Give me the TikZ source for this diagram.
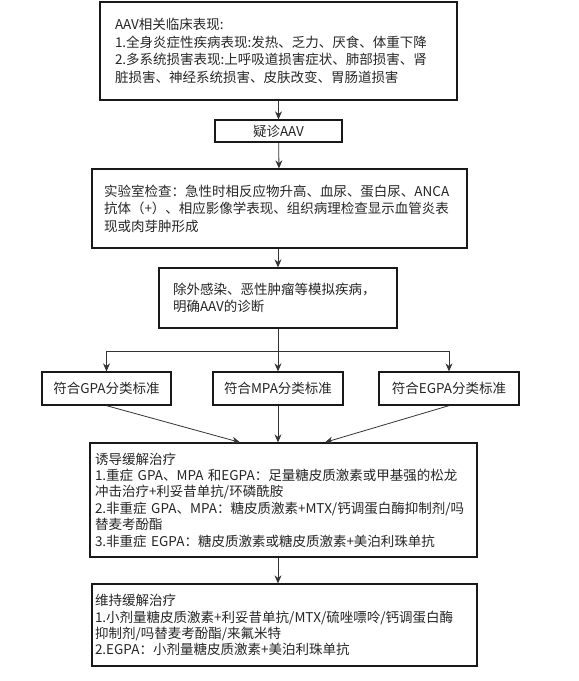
\documentclass[tikz,border=0pt]{standalone}
\usepackage{fontspec}
\setmainfont{Noto Sans CJK SC}
\usepackage{tikz}
\usetikzlibrary{arrows.meta,positioning,calc}

\begin{document}
\begin{tikzpicture}[x=1pt,y=-1pt,
  box/.style={draw=black!90,line width=1.3pt,inner ysep=0pt,
    font=\fontsize{13.5}{17.5}\selectfont,text=black!85,align=left},
  crit/.style={box,align=center,minimum height=33pt},
  arr/.style={-{Stealth[length=8pt,width=7pt]},line width=0.8pt,draw=black!80}]

  \useasboundingbox (0,0) rectangle (579,681);

  % clinical picture and suspicion
  \node[box,inner xsep=15pt,text width=327pt,minimum height=98pt] (symptom) at (278.5,51)
    {AAV相关临床表现:\\
     1.全身炎症性疾病表现:发热、乏力、厌食、体重下降\\
     2.多系统损害表现:上呼吸道损害症状、肺部损害、肾\\
     脏损害、神经系统损害、皮肤改变、胃肠道损害};
  \node[box,align=center,minimum width=127pt,minimum height=22pt] (suspect) at (278.5,131)
    {疑诊AAV};

  % laboratory tests
  \node[box,inner xsep=12pt,text width=351pt,minimum height=79pt] (lab) at (279.5,208.5)
    {实验室检查：急性时相反应物升高、血尿、蛋白尿、ANCA\\
     抗体（+）、相应影像学表现、组织病理检查显示血管炎表\\
     现或肉芽肿形成};

  % diagnosis
  \node[box,inner xsep=14pt,text width=210pt,minimum height=60pt] (exclude) at (278,298)
    {除外感染、恶性肿瘤等模拟疾病，\\
     明确AAV的诊断};

  % classification criteria
  \node[crit,minimum width=129pt] (gpa)  at (106.5,388.5) {符合GPA分类标准};
  \node[crit,minimum width=130pt] (mpa)  at (278,388.5)   {符合MPA分类标准};
  \node[crit,minimum width=140pt] (egpa) at (449,388.5)   {符合EGPA分类标准};

  % induction and maintenance
  \node[box,inner xsep=5pt,text width=377pt,minimum height=114pt,
        font=\fontsize{13.5}{16.4}\selectfont] (induce) at (283.5,500)
    {诱导缓解治疗\\
     1.重症 GPA、MPA 和EGPA：足量糖皮质激素或甲基强的松龙\\
     冲击治疗+利妥昔单抗/环磷酰胺\\
     2.非重症 GPA、MPA：糖皮质激素+MTX/钙调蛋白酶抑制剂/吗\\
     替麦考酚酯\\
     3.非重症 EGPA：糖皮质激素或糖皮质激素+美泊利珠单抗};
  \node[box,inner xsep=3pt,text width=379pt,minimum height=82pt,
        font=\fontsize{13.5}{16.2}\selectfont] (maintain) at (284.5,625)
    {维持缓解治疗\\
     1.小剂量糖皮质激素+利妥昔单抗/MTX/硫唑嘌呤/钙调蛋白酶\\
     抑制剂/吗替麦考酚酯/来氟米特\\
     2.EGPA：小剂量糖皮质激素+美泊利珠单抗};

  % connectors
  \draw[arr] (symptom) -- (suspect);
  \draw[arr] (suspect) -- (lab);
  \draw[arr] (lab.south -| exclude) -- (exclude);
  \coordinate (split) at ($(exclude.south)+(0,23)$);
  \draw[arr] (exclude) -- (mpa);
  \draw[arr] (split) -| (gpa.north);
  \draw[arr] (split) -| (egpa.north);
  \draw[arr] (gpa.south)  -- ($(induce.north)+(-43.5,0)$);
  \draw[arr] (mpa.south)  -- (mpa.south |- induce.north);
  \draw[arr] (egpa.south) -- ($(induce.north)+(41.5,0)$);
  \draw[arr] (induce.south -| mpa) -- (maintain.north -| mpa);

\end{tikzpicture}
\end{document}
